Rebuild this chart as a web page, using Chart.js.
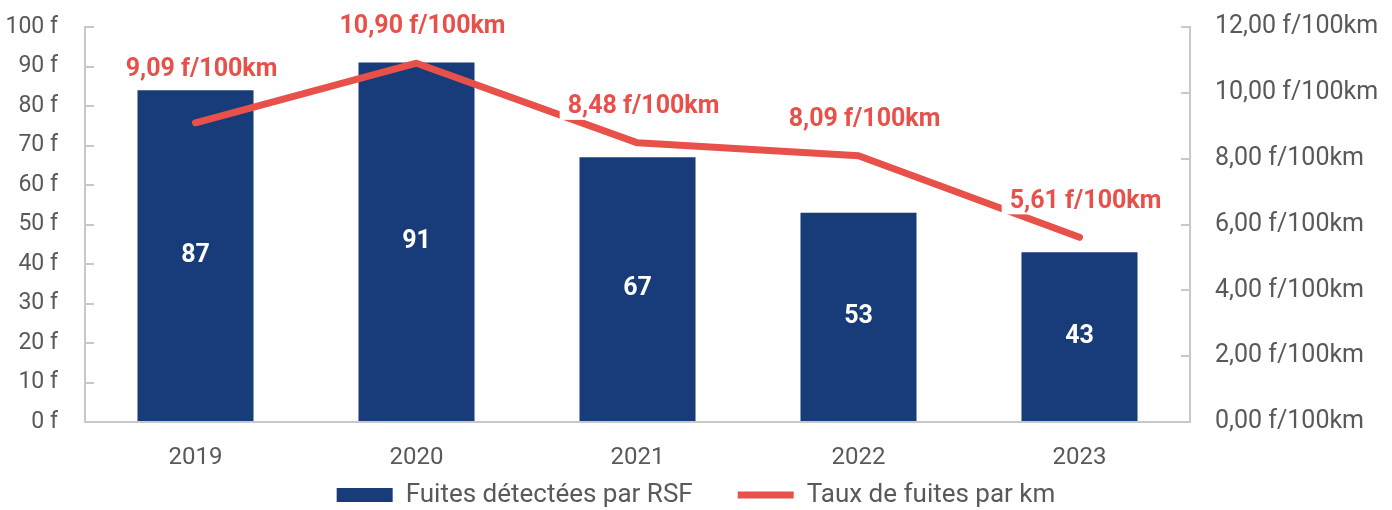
<!DOCTYPE html>
<html>
<head>
<meta charset="utf-8">
<style>
  html, body { margin: 0; padding: 0; background: #fff; }
  #wrap { width: 1392px; height: 510px; }
</style>
<script src="https://cdn.jsdelivr.net/npm/chart.js@4"></script>
</head>
<body>
<div id="wrap"><canvas id="fuitesChart" width="1392" height="510"></canvas></div>
<script>
const annees = ['2019', '2020', '2021', '2022', '2023'];
const fuitesDetectees = [84, 91, 67, 53, 43];
const fuitesEtiquettes = ['87', '91', '67', '53', '43'];
const tauxFuites = [9.09, 10.90, 8.48, 8.09, 5.61];

const bleu = '#183b7a';
const rouge = '#e8504a';
const gris = '#595959';
const axe = '#c8c8c8';

const fmtTaux = v => v.toFixed(2).replace('.', ',') + ' f/100km';

// etiquettes sur les barres et au-dessus de la courbe (fond blanc comme dans Excel)
const etiquettes = {
    id: 'etiquettes',
    afterInit(chart) {
        // hauteur fixe pour la legende
        const leg = chart.legend;
        const fitOrig = leg.fit;
        leg.fit = function () {
            fitOrig.call(this);
            this.height = 39;
        };
    },
    afterLayout(chart) {
        // remonter la legende (le padding des items la pousse vers le bas)
        chart.legend.top -= 34;
        chart.legend.height += 34;
    },
    afterDatasetsDraw(chart) {
        const ctx = chart.ctx;
        ctx.save();
        ctx.textAlign = 'center';
        ctx.textBaseline = 'middle';

        const barres = chart.getDatasetMeta(0).data;
        ctx.fillStyle = '#ffffff';
        ctx.font = 'bold 25px Roboto';
        barres.forEach((b, i) => {
            ctx.fillText(fuitesEtiquettes[i], b.x, (b.y + b.base) / 2);
        });

        const points = chart.getDatasetMeta(1).data;
        ctx.font = 'bold 25px Roboto';
        points.forEach((p, i) => {
            const txt = fmtTaux(tauxFuites[i]);
            const x = p.x + 6;
            const y = Math.min(p.y - 36, barres[i].y - 20);
            const w = ctx.measureText(txt).width;
            ctx.fillStyle = '#ffffff';
            ctx.fillRect(x - w / 2 - 8, y - 13, w + 16, 26);
            ctx.fillStyle = rouge;
            ctx.fillText(txt, x, y);
        });
        ctx.restore();
    }
};

const yFit = w => scale => {
    scale.width = w;
    scale.paddingTop = 0;
    scale.paddingBottom = 0;
};

const ctx = document.getElementById('fuitesChart').getContext('2d');
new Chart(ctx, {
    type: 'bar',
    data: {
        labels: annees,
        datasets: [
            {
                type: 'bar',
                label: 'Fuites détectées par RSF',
                data: fuitesDetectees,
                backgroundColor: bleu,
                borderWidth: 0,
                categoryPercentage: 1,
                barPercentage: 0.525,
                pointStyle: 'rect',
                yAxisID: 'y',
                order: 2
            },
            {
                type: 'line',
                label: 'Taux de fuites par km',
                data: tauxFuites,
                borderColor: rouge,
                backgroundColor: rouge,
                borderWidth: 7,
                borderCapStyle: 'round',
                borderJoinStyle: 'round',
                pointRadius: 0,
                pointStyle: 'line',
                tension: 0,
                yAxisID: 'y1',
                order: 1
            }
        ]
    },
    options: {
        responsive: false,
        animation: false,
        layout: { padding: { top: 27, left: 0, right: 0, bottom: 0 } },
        plugins: {
            tooltip: { enabled: false },
            legend: {
                position: 'bottom',
                labels: {
                    usePointStyle: true,
                    pointStyleWidth: 56,
                    boxHeight: 14,
                    padding: 45,
                    color: gris,
                    font: { family: 'Roboto', size: 26 },
                    sort: (a, b) => a.datasetIndex - b.datasetIndex
                }
            }
        },
        scales: {
            x: {
                afterFit(scale) { scale.height = 49; },
                grid: { display: true, drawOnChartArea: false, drawTicks: false },
                border: { color: axe, width: 2 },
                ticks: { color: gris, padding: 22, font: { family: 'Roboto', size: 24 } }
            },
            y: {
                position: 'left',
                min: 0,
                max: 100,
                afterFit: yFit(85),
                grid: { drawOnChartArea: false, drawTicks: true, tickLength: -9, color: axe, lineWidth: 2 },
                border: { color: axe, width: 2 },
                ticks: {
                    stepSize: 10,
                    color: gris,
                    padding: 36,
                    font: { family: 'Roboto', size: 23 },
                    callback: v => v + ' f'
                }
            },
            y1: {
                position: 'right',
                min: 0,
                max: 12,
                afterFit: yFit(202),
                grid: { drawOnChartArea: false, drawTicks: true, tickLength: -9, color: axe, lineWidth: 2 },
                border: { color: axe, width: 2 },
                ticks: {
                    stepSize: 2,
                    color: gris,
                    padding: 34,
                    font: { family: 'Roboto', size: 25 },
                    callback: v => fmtTaux(v)
                }
            }
        }
    },
    plugins: [etiquettes]
});
</script>
</body>
</html>
